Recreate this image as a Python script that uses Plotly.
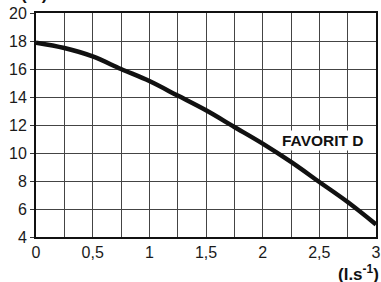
import plotly.graph_objects as go

flow = [0, 0.25, 0.5, 0.75, 1.0, 1.25, 1.5, 1.75, 2.0, 2.25, 2.5, 2.75, 3.0]
head = [17.88, 17.5, 16.9, 16.0, 15.14, 14.1, 13.05, 11.86, 10.67, 9.36, 7.93, 6.5, 4.9]
x_ticks = [0, 0.5, 1, 1.5, 2, 2.5, 3]
x_tick_labels = ["0", "0,5", "1", "1,5", "2", "2,5", "3"]
y_ticks = [4, 6, 8, 10, 12, 14, 16, 18, 20]
series_name = "FAVORIT D"
x_title = "(l.s<sup>-1</sup>)"
y_title = "(m)"

FONT = "Liberation Sans, Arial"

fig = go.Figure()
fig.add_trace(go.Scatter(x=flow, y=head, mode="lines", line=dict(color="#111", width=4.5, shape="spline"),
                         showlegend=False, hoverinfo="skip"))

fig.add_annotation(x=2.53, y=10.9, xref="x", yref="y", text="<b>" + series_name + "</b>",
                   showarrow=False, font=dict(family=FONT, size=15.5, color="#111"),
                   bgcolor="white")
fig.add_annotation(x=1.0, y=0, xref="paper", yref="paper", xanchor="right", yanchor="top",
                   yshift=-23, xshift=5, text="<b>" + x_title + "</b>", showarrow=False,
                   font=dict(family=FONT, size=17, color="#111"))
fig.add_annotation(x=0, y=1, xref="paper", yref="paper", xanchor="center", yanchor="bottom",
                   xshift=-2, yshift=7, text="<b>" + y_title + "</b>", showarrow=False,
                   font=dict(family=FONT, size=17, color="#111"))

axis_common = dict(showline=True, linecolor="#111", linewidth=2, mirror=True,
                   showgrid=True, gridcolor="#444", gridwidth=1, zeroline=False,
                   tickfont=dict(family=FONT, size=16, color="#1a1a1a"))

fig.update_xaxes(range=[0, 3], tickvals=x_ticks, ticktext=x_tick_labels, ticks="",
                 minor=dict(dtick=0.25, showgrid=True, gridcolor="#444", gridwidth=1),
                 automargin=False, **axis_common)
fig.update_yaxes(range=[4, 20], tickvals=y_ticks, ticks="outside", ticklen=4, tickcolor="#333",
                 automargin=False, **axis_common)

fig.update_layout(width=381, height=282, margin=dict(l=36, r=5, t=13, b=45),
                  plot_bgcolor="white", paper_bgcolor="white")

fig.write_html("out.html", config={"displayModeBar": False},
               post_script="document.body.style.margin='0';")
